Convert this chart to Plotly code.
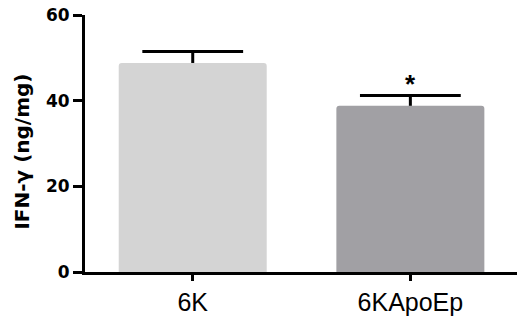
import plotly.graph_objects as go

categories = ["6K", "6KApoEp"]
means = [48.8, 38.8]
errors = [2.7, 2.4]
bar_colors = ["#d4d4d4", "#a1a0a4"]
y_ticks = [0, 20, 40, 60]
y_title = "IFN-γ (ng/mg)"
sig_label = "*"
sig_y = 43.8

upper = [m + e for m, e in zip(means, errors)]

fig = go.Figure()
fig.add_trace(go.Bar(
    x=categories, y=means,
    marker=dict(color=bar_colors, line=dict(width=0), cornerradius=3),
    width=0.68,
    error_y=dict(type="data", array=errors, symmetric=False, arrayminus=[0, 0],
                 color="black", thickness=3, width=0),
    hoverinfo="skip",
))
# top caps of the error bars
fig.add_trace(go.Scatter(
    x=categories, y=upper, mode="markers",
    marker=dict(symbol="line-ew", size=72, color="black",
                line=dict(width=3, color="black")),
    hoverinfo="skip",
))
fig.add_annotation(x=categories[1], y=sig_y, text=sig_label, showarrow=False,
                   font=dict(size=26, color="black", family="Liberation Sans, Arial", weight="bold"),
                   yanchor="middle")
fig.add_annotation(xref="paper", yref="paper", x=-0.145, y=0.47, text=y_title,
                   textangle=-90, showarrow=False, xanchor="center", yanchor="middle",
                   font=dict(size=20, color="black", family="DejaVu Sans", weight="bold"))
fig.update_layout(
    width=517, height=323,
    margin=dict(l=85, r=0, t=15, b=51, autoexpand=False),
    plot_bgcolor="white", paper_bgcolor="white",
    showlegend=False,
    font=dict(family="Liberation Sans, Arial", color="black"),
)
fig.update_yaxes(
    range=[0, 60], tickvals=y_ticks, showgrid=False, zeroline=False,
    showline=True, linecolor="black", linewidth=3, automargin=False,
    ticks="outside", ticklen=9, tickwidth=3, tickcolor="black",
    ticklabeloverflow="allow",
    tickfont=dict(size=17, family="DejaVu Sans", weight="bold"),
)
fig.update_xaxes(
    range=[-0.495, 1.49], showgrid=False, zeroline=False,
    showline=True, linecolor="black", linewidth=3, automargin=False,
    ticks="outside", ticklen=6, tickwidth=3, tickcolor="black",
    ticklabeloverflow="allow",
    tickfont=dict(size=25),
)
fig.write_html("out.html", config={"displayModeBar": False},
               post_script="document.body.style.margin='0px';")
